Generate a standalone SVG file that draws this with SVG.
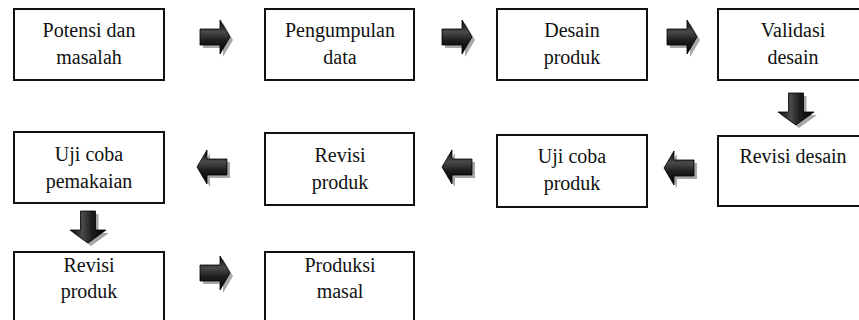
<svg xmlns="http://www.w3.org/2000/svg" width="859" height="320" viewBox="0 0 859 320">
<style>
.box{fill:#fff;stroke:#111;stroke-width:2}
.t{font-size:20px;fill:#111;text-anchor:middle}
.sh{fill:#a8a8a8}
.ah{fill:url(#gh);stroke:#000;stroke-width:0.8}
.av{fill:url(#gv);stroke:#000;stroke-width:0.8}
</style>
<defs>
<linearGradient id="gh" x1="0" y1="0" x2="0" y2="1">
<stop offset="0" stop-color="#0a0a0a"/>
<stop offset="0.35" stop-color="#4a4a4a"/>
<stop offset="0.6" stop-color="#1e1e1e"/>
<stop offset="1" stop-color="#000"/>
</linearGradient>
<linearGradient id="gv" x1="0" y1="0" x2="1" y2="0">
<stop offset="0" stop-color="#0a0a0a"/>
<stop offset="0.35" stop-color="#4a4a4a"/>
<stop offset="0.6" stop-color="#1e1e1e"/>
<stop offset="1" stop-color="#000"/>
</linearGradient>
<path id="ar" d="M0,-8 L20,-8 L20,-17 L30,0 L20,17 L20,8 L0,8 Z"/>
<path id="al" d="M30,-8 L10,-8 L10,-17 L0,0 L10,17 L10,8 L30,8 Z"/>
<path id="ad" d="M-7.5,0 L7.5,0 L7.5,19 L18,19 L0,32 L-18,19 L-7.5,19 Z"/>
</defs>
<g id="connectors">
<g transform="translate(200,37)"><use href="#ar" class="sh" x="3" y="3"/><use href="#ar" class="ah"/></g>
<g transform="translate(442,37)"><use href="#ar" class="sh" x="3" y="3"/><use href="#ar" class="ah"/></g>
<g transform="translate(667,37)"><use href="#ar" class="sh" x="3" y="3"/><use href="#ar" class="ah"/></g>
<g transform="translate(796,93)"><use href="#ad" class="sh" x="3" y="3"/><use href="#ad" class="av"/></g>
<g transform="translate(664,168)"><use href="#al" class="sh" x="3" y="3"/><use href="#al" class="ah"/></g>
<g transform="translate(442,167)"><use href="#al" class="sh" x="3" y="3"/><use href="#al" class="ah"/></g>
<g transform="translate(197,167)"><use href="#al" class="sh" x="3" y="3"/><use href="#al" class="ah"/></g>
<g transform="translate(88,211)"><use href="#ad" class="sh" x="3" y="3"/><use href="#ad" class="av"/></g>
<g transform="translate(200,273)"><use href="#ar" class="sh" x="3" y="3"/><use href="#ar" class="ah"/></g>
</g>
<g font-family="'Liberation Serif', 'Times New Roman', 'DejaVu Serif', serif">
<g id="n1"><rect class="box" x="14" y="9" width="150" height="71"/><text class="t" x="89" y="37">Potensi dan</text><text class="t" x="89" y="64">masalah</text></g>
<g id="n2"><rect class="box" x="265" y="9" width="149" height="71"/><text class="t" x="340" y="37">Pengumpulan</text><text class="t" x="340" y="64">data</text></g>
<g id="n3"><rect class="box" x="497" y="9" width="150" height="71"/><text class="t" x="572" y="37">Desain</text><text class="t" x="572" y="64">produk</text></g>
<g id="n4"><rect class="box" x="718" y="9" width="150" height="71"/><text class="t" x="793" y="37">Validasi</text><text class="t" x="793" y="64">desain</text></g>
<g id="n5"><rect class="box" x="718" y="136" width="150" height="70"/><text class="t" x="793" y="163">Revisi desain</text></g>
<g id="n6"><rect class="box" x="497" y="135" width="150" height="72"/><text class="t" x="572" y="163">Uji coba</text><text class="t" x="572" y="190">produk</text></g>
<g id="n7"><rect class="box" x="265" y="133" width="149" height="72"/><text class="t" x="340" y="162">Revisi</text><text class="t" x="340" y="189">produk</text></g>
<g id="n8"><rect class="box" x="14" y="132" width="150" height="71"/><text class="t" x="89" y="161">Uji coba</text><text class="t" x="89" y="188">pemakaian</text></g>
<g id="n9"><rect class="box" x="14" y="252" width="150" height="80"/><text class="t" x="89" y="272">Revisi</text><text class="t" x="89" y="298">produk</text></g>
<g id="n10"><rect class="box" x="265" y="252" width="149" height="80"/><text class="t" x="340" y="272">Produksi</text><text class="t" x="340" y="298">masal</text></g>
</g>
</svg>
